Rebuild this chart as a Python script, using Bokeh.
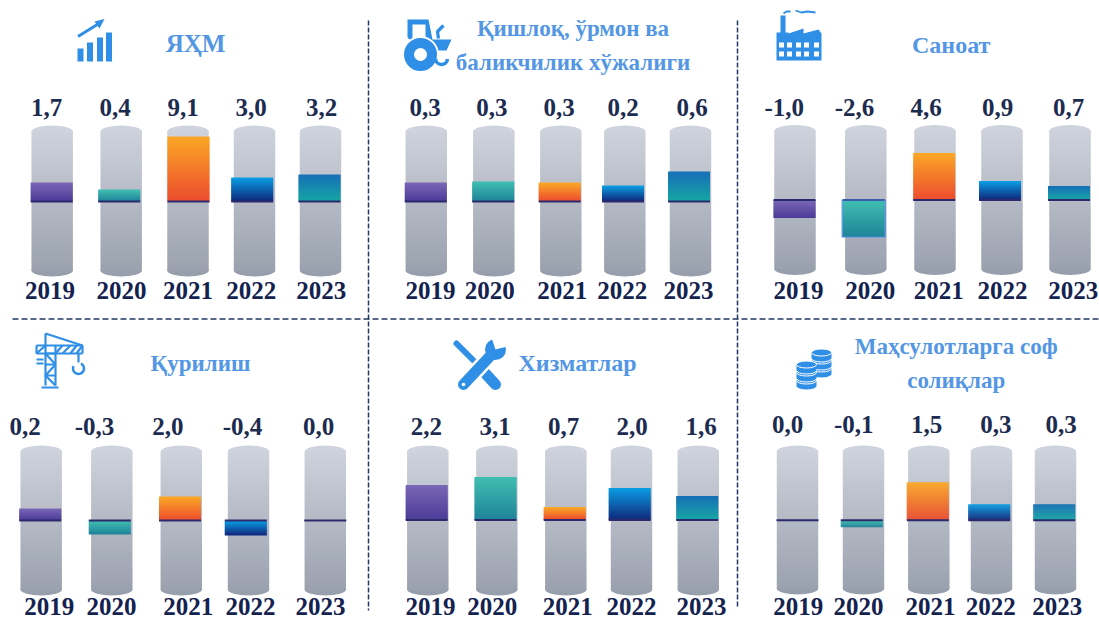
from bokeh.plotting import figure
from bokeh.models import Range1d
from bokeh.core.properties import value
from bokeh.embed import file_html
from bokeh.resources import INLINE
import numpy as np

# ---------- data ----------
years = ["2019", "2020", "2021", "2022", "2023"]

titles_gdp = ["ЯҲМ"]
values_gdp = ["1,7", "0,4", "9,1", "3,0", "3,2"]
drawn_gdp = [19, 12, 65, 24, 27]

titles_agri = ["Қишлоқ, ўрмон ва", "баликчилик хўжалиги"]
values_agri = ["0,3", "0,3", "0,3", "0,2", "0,6"]
drawn_agri = [19, 20, 19, 16, 30]

titles_ind = ["Саноат"]
values_ind = ["-1,0", "-2,6", "4,6", "0,9", "0,7"]
drawn_ind = [-18, -37, 47, 19, 14]

titles_con = ["Қурилиш"]
values_con = ["0,2", "-0,3", "2,0", "-0,4", "0,0"]
drawn_con = [12, -14, 24, -15, 0]

titles_srv = ["Хизматлар"]
values_srv = ["2,2", "3,1", "0,7", "2,0", "1,6"]
drawn_srv = [35, 43, 13, 32, 24]

titles_tax = ["Маҳсулотларга соф", "солиқлар"]
values_tax = ["0,0", "-0,1", "1,5", "0,3", "0,3"]
drawn_tax = [0, -7, 38, 16, 16]

# ---------- layout (page pixels of the picture) ----------
W, H = 1099, 621
PANELS = [
    dict(name="gdp", titles=titles_gdp, values=values_gdp, drawn=drawn_gdp, base=201, top=125, bot=276,
         caps=[51.7, 120.7, 187.5, 254, 320], bars=[51.2, 118.7, 188, 251.7, 319],
         labels=[46, 114.7, 182.7, 250.5, 321], label_y=107,
         ticks=[49.5, 121, 187.5, 250.7, 320.7], tick_y=290,
         title_x=195, title_y=[43], title_size=[25]),
    dict(name="agri", titles=titles_agri, values=values_agri, drawn=drawn_agri, base=201, top=125, bot=276,
         caps=[425.8, 493.3, 560.3, 624.3, 690], bars=[425.3, 492.7, 559.2, 622.5, 688.5],
         labels=[424.7, 491.3, 558.7, 622.7, 691.5], label_y=107,
         ticks=[430, 489.3, 561.7, 621.7, 688], tick_y=290,
         title_x=572.5, title_y=[28, 62], title_size=[23, 23]),
    dict(name="ind", titles=titles_ind, values=values_ind, drawn=drawn_ind, base=199.5, top=124.5, bot=274.5,
         caps=[794.5, 865.3, 934.5, 1001.5, 1069.5], bars=[794, 863.2, 933.7, 999.5, 1068.5],
         labels=[783.7, 854, 925.5, 997, 1068], label_y=107,
         ticks=[798, 869.7, 938.3, 1002, 1072.7], tick_y=290,
         title_x=950.7, title_y=[44], title_size=[24]),
    dict(name="con", titles=titles_con, values=values_con, drawn=drawn_con, base=520, top=445, bot=595,
         caps=[40.7, 111.3, 180.8, 248, 324.8], bars=[39.7, 109.3, 179.5, 245.3, 324.8],
         labels=[24.7, 94, 167.3, 242, 318], label_y=425.7,
         ticks=[48.8, 111, 187.8, 250, 320], tick_y=606,
         title_x=200, title_y=[363], title_size=[23]),
    dict(name="srv", titles=titles_srv, values=values_srv, drawn=drawn_srv, base=519.5, top=445, bot=595,
         caps=[427.3, 496.3, 565.3, 631, 697.8], bars=[426.2, 495, 564.2, 629.2, 696.7],
         labels=[425.8, 494.7, 563, 631.7, 700.7], label_y=425.7,
         ticks=[430, 491.7, 567.3, 631, 701], tick_y=606,
         title_x=577, title_y=[362], title_size=[24]),
    dict(name="tax", titles=titles_tax, values=values_tax, drawn=drawn_tax, base=519.7, top=445, bot=594,
         caps=[797, 863, 928.3, 991, 1055], bars=[797, 861.3, 927.3, 988.7, 1053.7],
         labels=[787, 853.3, 926, 995.3, 1060.7], label_y=424,
         ticks=[797.7, 858, 930, 990.3, 1056.7], tick_y=606,
         title_x=955.7, title_y=[346, 380], title_size=[23, 23]),
]
GRADS = [("#7a66b6", "#4c3c98"), ("#3fbdb1", "#1f8499"), ("#fba726", "#ec4c2e"),
         ("#0a9ce2", "#10297c"), ("#1670b6", "#17a5a4")]
CAP_TOP, CAP_BOT = "#cfd3dd", "#989fac"
NAVY, TICK_NAVY, BLUE, TITLE_BLUE = "#1c2c50", "#13224f", "#2f8fe6", "#5296e4"
SERIF = value("Liberation Serif")


def hex2rgb(c):
    return np.array([int(c[i:i + 2], 16) for i in (1, 3, 5)], float)


def mix(c1, c2, t):
    a = hex2rgb(c1) * (1 - t) + hex2rgb(c2) * t
    return "#%02x%02x%02x" % tuple(int(round(v)) for v in a)


p = figure(width=W, height=H, output_backend="svg", toolbar_location=None,
           x_range=Range1d(0, W), y_range=Range1d(H, 0),
           x_axis_type=None, y_axis_type=None, min_border=0, outline_line_color=None,
           background_fill_color="white", border_fill_color="white")
p.grid.visible = False

for P in PANELS:
    rng = P["name"]
    # panel's own vertical scale: drawn units above its zero line
    p.extra_y_ranges[rng] = Range1d(start=P["base"] - H, end=P["base"])
    u_top, u_bot = P["base"] - P["top"], P["base"] - P["bot"]
    # capsules
    step = 3
    edges = np.arange(u_top - 6, u_bot + 6, -step, dtype=float)
    L, R, T, B, C = [], [], [], [], []
    for cx in P["caps"]:
        for e in edges:
            L.append(cx - 20.7); R.append(cx + 20.7); T.append(e); B.append(max(e - step - .6, u_bot + 6))
            C.append(mix(CAP_TOP, CAP_BOT, (u_top - e) / (u_top - u_bot)))
    p.ellipse(x=P["caps"], y=[u_top - 6] * 5, width=41.4, height=12, fill_color=CAP_TOP, line_color=None, y_range_name=rng)
    p.ellipse(x=P["caps"], y=[u_bot + 6] * 5, width=41.4, height=12, fill_color=CAP_BOT, line_color=None, y_range_name=rng)
    p.quad(left=L, right=R, top=T, bottom=B, fill_color=C, line_color=None, y_range_name=rng)
    # bars with a drawn gradient
    L, R, T, B, C = [], [], [], [], []
    for i, (bx, h) in enumerate(zip(P["bars"], P["drawn"])):
        hi, lo = max(h, 0), min(h, 0)
        n = int(abs(h))
        for k in range(n):
            t = hi - (hi - lo) * k / n
            b = hi - (hi - lo) * (k + 1) / n
            L.append(bx - 21); R.append(bx + 21); T.append(t); B.append(b - (0.5 if k < n - 1 else 0))
            C.append(mix(GRADS[i][0], GRADS[i][1], k / max(n - 1, 1)))
    p.quad(left=L, right=R, top=T, bottom=B, fill_color=C, line_color=None, y_range_name=rng)
    # zero line
    p.segment(x0=[b - 21 for b in P["bars"]], x1=[b + 21 for b in P["bars"]], y0=[0] * 5, y1=[0] * 5,
              line_color="#2b2a6c", line_width=2, y_range_name=rng)
    # texts
    p.text(x=P["labels"], y=[P["label_y"]] * 5, text=P["values"], text_font=SERIF, text_font_style="bold",
           text_font_size="25px", text_color=NAVY, text_align="center", text_baseline="middle")
    p.text(x=P["ticks"], y=[P["tick_y"]] * 5, text=years, text_font=SERIF, text_font_style="bold",
           text_font_size="25px", text_color=TICK_NAVY, text_align="center", text_baseline="middle")
    for t, ty, ts in zip(P["titles"], P["title_y"], P["title_size"]):
        p.text(x=[P["title_x"]], y=[ty], text=[t], text_font=SERIF, text_font_style="bold",
               text_font_size=f"{ts}px", text_color=TITLE_BLUE, text_align="center", text_baseline="middle")

# the one bar outlined in the picture
ind = PANELS[2]
p.quad(left=[ind["bars"][1] - 21.5], right=[ind["bars"][1] + 21.5], top=[0], bottom=[ind["drawn"][1]],
       fill_color=None, line_color="#4c8fe6", line_width=1.2, y_range_name="ind")

# separators
DASH = dict(line_color="#1f3864", line_width=1.5)
p.line(x=[368, 368], y=[20, 610], line_dash="5 2", **DASH)
p.line(x=[737, 737], y=[20, 608], line_dash="5 2", **DASH)
p.line(x=[12, 1099], y=[318.5, 318.5], line_dash="6 3", **DASH)

# ---------- icons ----------
# rising bars and arrow
p.quad(left=[77, 86.5, 96.5, 105.5], right=[83, 92.5, 102.5, 111.5], top=[48, 42, 37, 32], bottom=[61] * 4,
       fill_color=BLUE, line_color=None)
p.line(x=[77.5, 100], y=[36, 22], line_color=BLUE, line_width=3)
p.patch(x=[94, 104, 99], y=[21, 18.5, 28], fill_color=BLUE, line_color=None)

# tractor
p.patch(x=[407, 428, 432, 451, 446, 434, 425, 412, 407],
        y=[19, 19, 39, 39, 50, 50, 42, 42, 37], fill_color=BLUE, line_color=None)
p.quad(left=[412], right=[425], top=[24], bottom=[38], fill_color="white", line_color=None)
p.line(x=[438, 437, 441, 443], y=[38, 31, 27, 25], line_color=BLUE, line_width=3.2)
p.circle(x=[420], y=[54], radius=18.5, radius_units="screen", fill_color="white", line_color=None)
p.circle(x=[420], y=[54], radius=11.5, radius_units="screen", fill_color=None, line_color=BLUE, line_width=10)
p.arc(x=[441], y=[58], radius=6, radius_units="screen", start_angle=3.2, end_angle=6.2,
      direction="anticlock", line_color=BLUE, line_width=3.5)

# factory
p.patch(x=[776, 776, 780, 780, 785, 785, 788, 788, 803, 803, 818, 821, 821],
        y=[60, 32, 32, 15, 15, 32, 32, 33, 28, 33, 29, 33, 60],
        fill_color=BLUE, line_color=None)
wx, wy = [], []
for yy in (44.5, 53.5):
    for xx in (781, 789, 798, 806, 816):
        wx.append(xx); wy.append(yy)
p.rect(x=wx, y=wy, width=5, height=5, fill_color="white", line_color=None)
p.line(x=[783, 786, 790], y=[13, 11, 11], line_color=BLUE, line_width=1.8)
p.line(x=[795, 801, 807, 815], y=[10, 12, 11, 12], line_color=BLUE, line_width=1.8)

# crane
CR = dict(line_color=BLUE, line_width=2.2)
p.multi_line(xs=[[45, 45], [55, 55], [36, 82], [36, 82], [36, 36], [82, 82], [45, 55], [55, 45], [45, 55], [55, 45], [45, 55],
                 [36, 45], [55, 62], [62, 70], [70, 76], [76, 82], [45, 82], [45, 55], [41, 58], [36, 43], [36, 43]],
             ys=[[333, 385], [345, 385], [345, 345], [353, 353], [345, 353], [345, 353], [353, 364], [364, 375], [375, 385], [353, 353], [364, 364],
                 [353, 345], [353, 345], [353, 345], [353, 345], [353, 345], [333, 345], [375, 375], [387, 387], [359, 359], [363, 363]], **CR)
p.line(x=[78, 78], y=[353, 362], line_color=BLUE, line_width=2.2)
p.arc(x=[78], y=[368], radius=5.5, radius_units="screen", start_angle=2.7, end_angle=7.4, direction="anticlock",
      line_color=BLUE, line_width=2.5)

# tools
p.line(x=[456, 473], y=[343, 360], line_color=BLUE, line_width=6, line_cap="round")
p.line(x=[484, 495], y=[372, 384], line_color=BLUE, line_width=11, line_cap="round")
p.line(x=[463, 493], y=[384, 352], line_color="white", line_width=16)
p.line(x=[463, 493], y=[384, 352], line_color=BLUE, line_width=11, line_cap="round")
p.circle(x=[495], y=[349], radius=10.5, radius_units="screen", fill_color=BLUE, line_color=None)
p.patch(x=[495, 490, 510, 510], y=[349, 334, 334, 345], fill_color="white", line_color=None)
p.circle(x=[463], y=[384], radius=1.8, radius_units="screen", fill_color="white", line_color=None)

# coins
for cx, tops in ((821, (368, 360, 352)), (806, (380, 372, 364))):
    for t in tops:
        p.ellipse(x=[cx], y=[t + 6], width=20, height=7, fill_color=BLUE, line_color="white", line_width=1)
        p.quad(left=[cx - 10], right=[cx + 10], top=[t], bottom=[t + 6], fill_color=BLUE, line_color=None)
        p.ellipse(x=[cx], y=[t], width=20, height=7, fill_color=BLUE, line_color="white", line_width=1)

open("out.html", "w").write(file_html(p, INLINE))
